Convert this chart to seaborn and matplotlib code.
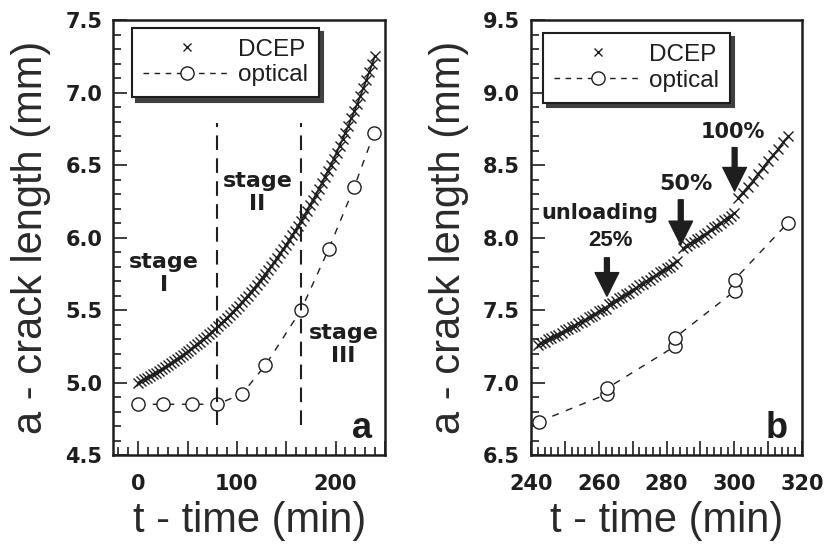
import matplotlib
matplotlib.use("Agg")
import matplotlib.pyplot as plt
from matplotlib.lines import Line2D
from matplotlib.ticker import MultipleLocator, FuncFormatter
import pandas as pd
import seaborn as sns

# ---- panel a: DCEP readings (every 3 min) and optical readings
dcep_t_a = list(range(0, 241, 3))
dcep_a = [5.000, 5.011, 5.022, 5.033, 5.044, 5.056, 5.068, 5.080, 5.093, 5.105,
          5.118, 5.132, 5.145, 5.159, 5.173, 5.188, 5.202, 5.218, 5.233, 5.249,
          5.265, 5.281, 5.298, 5.315, 5.333, 5.351, 5.369, 5.388, 5.407, 5.427,
          5.446, 5.467, 5.488, 5.509, 5.531, 5.553, 5.576, 5.599, 5.623, 5.647,
          5.672, 5.697, 5.723, 5.749, 5.776, 5.803, 5.832, 5.860, 5.890, 5.920,
          5.950, 5.982, 6.014, 6.046, 6.080, 6.114, 6.149, 6.184, 6.221, 6.258,
          6.296, 6.335, 6.374, 6.415, 6.456, 6.498, 6.541, 6.586, 6.631, 6.677,
          6.724, 6.772, 6.821, 6.871, 6.922, 6.975, 7.028, 7.083, 7.139, 7.196,
          7.254]
optical_t_a = [0, 25, 55, 80, 105, 129, 165, 193, 219, 239]
optical_a = [4.85, 4.85, 4.85, 4.85, 4.92, 5.12, 5.50, 5.92, 6.35, 6.72]
stage_bounds = [80, 165]
stage_names = ["stage\nI", "stage\nII", "stage\nIII"]
stage_x = [26, 121, 208]
stage_y = [5.75, 6.31, 5.26]

# ---- panel b: DCEP readings in four loading segments, optical pairs
dcep_t_b = [242, 243, 244, 245, 246, 247, 248, 249, 250, 251, 252, 253, 254, 255,
            256, 257, 258, 259, 260, 261, 262,
            263, 264, 265, 266, 267, 268, 269, 270, 271, 272, 273, 274, 275, 276,
            277, 278, 279, 280, 281, 282, 283,
            285, 286, 287, 288, 289, 290, 291, 292, 293, 294, 295, 296, 297, 298,
            299, 300,
            301, 302.5, 304, 305.5, 307, 308.5, 310, 311.5, 313, 314.5, 316]
dcep_b = [7.26, 7.27, 7.28, 7.30, 7.31, 7.32, 7.33, 7.34, 7.36, 7.37, 7.38, 7.39,
          7.41, 7.42, 7.43, 7.45, 7.46, 7.47, 7.49, 7.50, 7.51,
          7.54, 7.55, 7.56, 7.58, 7.59, 7.61, 7.62, 7.64, 7.65, 7.67, 7.68, 7.70,
          7.71, 7.73, 7.74, 7.76, 7.77, 7.79, 7.80, 7.82, 7.84,
          7.93, 7.94, 7.96, 7.97, 7.99, 8.00, 8.02, 8.03, 8.05, 8.07, 8.08, 8.10,
          8.12, 8.13, 8.15, 8.17,
          8.27, 8.31, 8.35, 8.39, 8.44, 8.48, 8.53, 8.57, 8.61, 8.66, 8.70]
dcep_seg_b = [1] * 21 + [2] * 21 + [3] * 16 + [4] * 11
optical_t_b = [242.3, 262.4, 262.4, 282.5, 282.5, 300.1, 300.1, 315.8]
optical_b = [6.73, 6.92, 6.96, 7.25, 7.31, 7.63, 7.71, 8.10]
arrow_t = [262.4, 284.2, 300.1]
arrow_top = [7.86, 8.26, 8.62]
arrow_tip = [7.595, 7.95, 8.32]

sns.set_theme(style="white")
plt.rcParams["font.family"] = ["Liberation Sans", "DejaVu Sans"]
ink = "#1e1e1e"
bold_font = {"family": "DejaVu Sans", "weight": "bold"}

fig = plt.figure(figsize=(8.3, 5.45), dpi=100)
ax_a = fig.add_axes([0.1367, 0.1651, 0.3271, 0.7982])
ax_b = fig.add_axes([0.6398, 0.1651, 0.3265, 0.7982])

dcep_df_a = pd.DataFrame({"t": dcep_t_a, "a": dcep_a})
opt_df_a = pd.DataFrame({"t": optical_t_a, "a": optical_a})
dcep_df_b = pd.DataFrame({"t": dcep_t_b, "a": dcep_b, "seg": dcep_seg_b})
opt_df_b = pd.DataFrame({"t": optical_t_b, "a": optical_b})

# panel a
sns.lineplot(data=opt_df_a, x="t", y="a", ax=ax_a, estimator=None, sort=False,
             color=ink, linewidth=1, linestyle=(0, (5, 5.5)), marker="o",
             markersize=9.5, markerfacecolor="white", markeredgecolor=ink,
             markeredgewidth=1)
sns.lineplot(data=dcep_df_a, x="t", y="a", ax=ax_a, estimator=None, sort=False,
             color=ink, linewidth=1.3, marker="x", markersize=7,
             markeredgewidth=1, markeredgecolor=ink)
ax_a.vlines(stage_bounds, 4.71, 6.79, colors=ink, linewidth=1.5,
            linestyles=(0, (7, 4)))
for s, x, y in zip(stage_names, stage_x, stage_y):
    ax_a.text(x, y, s, ha="center", va="center", fontsize=16, color=ink,
              linespacing=1.2, **bold_font)
ax_a.text(227, 4.68, "a", ha="center", va="center", fontsize=26,
          fontweight="bold", color=ink)

ax_a.set_xlim(-25, 250)
ax_a.set_ylim(4.5, 7.5)
ax_a.xaxis.set_major_locator(MultipleLocator(50))
ax_a.xaxis.set_minor_locator(MultipleLocator(10))
ax_a.xaxis.set_major_formatter(
    FuncFormatter(lambda v, p: f"{v:.0f}" if round(v) % 100 == 0 else ""))

# panel b
sns.lineplot(data=opt_df_b, x="t", y="a", ax=ax_b, estimator=None, sort=False,
             color=ink, linewidth=1, linestyle=(0, (5, 5.5)), marker="o",
             markersize=9.5, markerfacecolor="white", markeredgecolor=ink,
             markeredgewidth=1)
sns.lineplot(data=dcep_df_b, x="t", y="a", units="seg", ax=ax_b, estimator=None,
             sort=False, color=ink, linewidth=1.2, marker="x", markersize=7,
             markeredgewidth=1, markeredgecolor=ink)
for x, y0, y1 in zip(arrow_t, arrow_top, arrow_tip):
    ax_b.annotate("", xy=(x, y1), xytext=(x, y0),
                  arrowprops=dict(facecolor=ink, edgecolor=ink, width=3.5,
                                  headwidth=17, headlength=17, shrink=0))
ax_b.text(260.2, 8.17, "unloading", ha="center", va="center", fontsize=15,
          color=ink, **bold_font)
ax_b.text(263.6, 7.98, "25%", ha="center", va="center", fontsize=16,
          fontweight="bold", color=ink)
ax_b.text(285.7, 8.37, "50%", ha="center", va="center", fontsize=16,
          color=ink, **bold_font)
ax_b.text(299.6, 8.73, "100%", ha="center", va="center", fontsize=15,
          color=ink, **bold_font)
ax_b.text(312.6, 6.68, "b", ha="center", va="center", fontsize=26,
          fontweight="bold", color=ink)

ax_b.set_xlim(240, 320)
ax_b.set_ylim(6.5, 9.5)
ax_b.xaxis.set_major_locator(MultipleLocator(10))
ax_b.xaxis.set_minor_locator(MultipleLocator(2))
ax_b.xaxis.set_major_formatter(
    FuncFormatter(lambda v, p: f"{v:.0f}" if round(v) % 20 == 0 else ""))

legend_handles = [
    Line2D([], [], color=ink, marker="x", linestyle="none", markersize=6,
           markeredgewidth=1),
    Line2D([], [], color=ink, marker="o", markerfacecolor="white",
           linestyle=(0, (4, 4)), linewidth=1, markersize=9.5),
]

for ax, anchor in [(ax_a, (0.068, 0.982)), (ax_b, (0.044, 0.970))]:
    ax.yaxis.set_major_locator(MultipleLocator(0.5))
    ax.yaxis.set_minor_locator(MultipleLocator(0.1))
    ax.yaxis.set_major_formatter(FuncFormatter(lambda v, p: f"{v:.1f}"))
    ax.tick_params(which="both", direction="in", top=False, right=False,
                   left=True, bottom=True, colors=ink, width=1.2)
    ax.tick_params(which="major", length=10, labelsize=15)
    ax.tick_params(which="minor", length=5.5)
    ax.tick_params(axis="x", which="major", pad=14)
    ax.tick_params(axis="y", which="major", pad=8)
    for tick in ax.xaxis.get_major_ticks() + ax.yaxis.get_major_ticks():
        tick.label1.set_fontfamily("DejaVu Sans")
        tick.label1.set_fontweight("bold")
    for sp in ax.spines.values():
        sp.set_linewidth(1.8)
        sp.set_color(ink)
    ax.set_xlabel("t - time (min)", fontsize=30, labelpad=5, color="#2a2a2a")
    ax.set_ylabel("a - crack length (mm)", fontsize=30, labelpad=10,
                  color="#2a2a2a")
    leg = ax.legend(legend_handles, ["DCEP", "optical"], loc="upper left",
                    bbox_to_anchor=anchor, borderaxespad=0, frameon=True,
                    fancybox=False, framealpha=1, edgecolor=ink,
                    shadow={"ox": 3, "oy": -3, "color": "0.25", "alpha": 1},
                    fontsize=17.5, handlelength=3.6, handletextpad=0.3,
                    borderpad=0.45, labelspacing=0.15, numpoints=1)
    leg.get_frame().set_linewidth(1.5)
    for txt in leg.get_texts():
        txt.set_color(ink)

fig.savefig("out.png", dpi=100)
